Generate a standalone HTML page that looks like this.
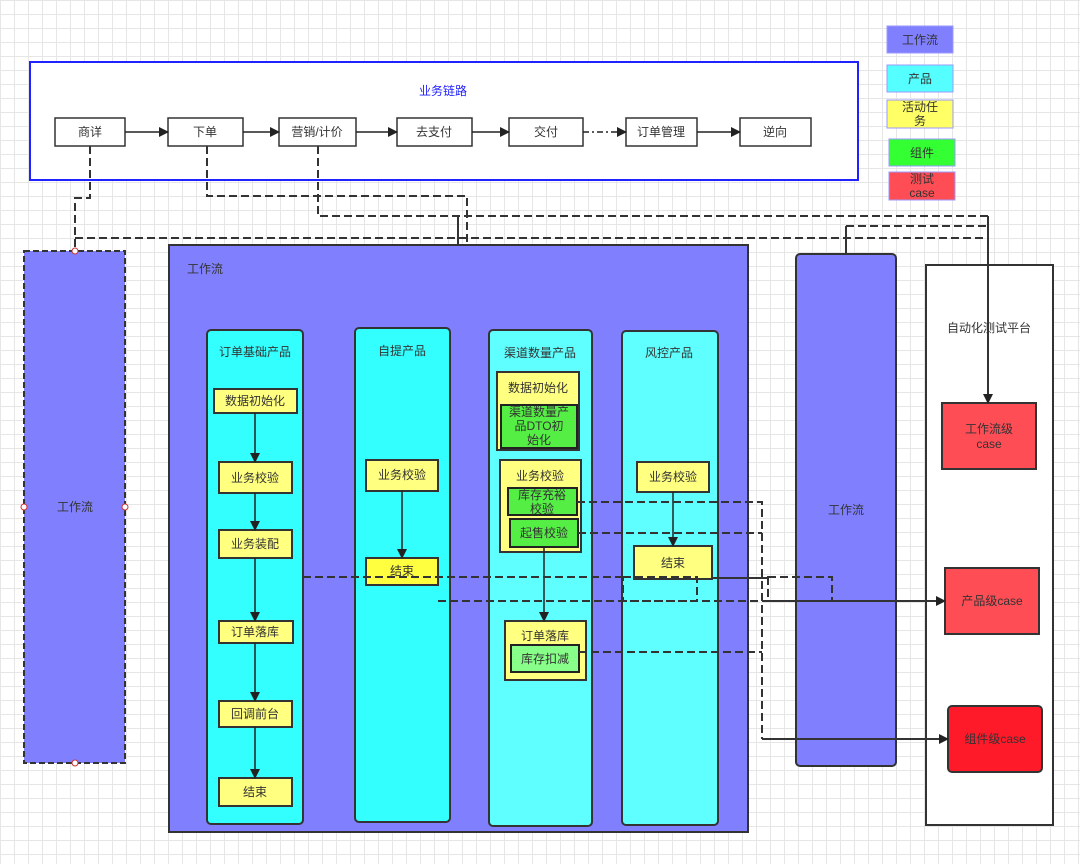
<!DOCTYPE html>
<html><head><meta charset="utf-8"><style>
html,body{margin:0;padding:0;}
body{width:1080px;height:864px;overflow:hidden;background:#fff;
background-image:linear-gradient(#e6e6e6 1px,transparent 1px),linear-gradient(90deg,#e6e6e6 1px,transparent 1px);background-size:14px 14px;}
svg{position:absolute;left:0;top:0;}
text{font-family:"Liberation Sans","Noto Sans CJK SC",sans-serif;font-size:12px;fill:#333;text-anchor:middle;dominant-baseline:central;}
</style></head><body>
<svg width="1080" height="864" viewBox="0 0 1080 864">
<defs><marker id="a" markerWidth="10" markerHeight="10" refX="9" refY="5" orient="auto" markerUnits="userSpaceOnUse"><path d="M0,0L10,5L0,10z" fill="#222"/></marker></defs>
<!-- top box -->
<rect x="30" y="62" width="828" height="118" fill="#fff" stroke="#2222ff" stroke-width="2"/>
<text x="443" y="91" style="fill:#2222ff">业务链路</text>
<g fill="#fff" stroke="#333" stroke-width="1.5">
<rect x="55" y="118" width="70" height="28"/><rect x="168" y="118" width="75" height="28"/><rect x="279" y="118" width="77" height="28"/><rect x="397" y="118" width="75" height="28"/><rect x="509" y="118" width="74" height="28"/><rect x="626" y="118" width="71" height="28"/><rect x="740" y="118" width="71" height="28"/>
</g>
<text x="90" y="132">商详</text><text x="205" y="132">下单</text><text x="317" y="132">营销/计价</text><text x="434" y="132">去支付</text><text x="546" y="132">交付</text><text x="661" y="132">订单管理</text><text x="775" y="132">逆向</text>
<g stroke="#222" stroke-width="1.5" marker-end="url(#a)">
<line x1="125" y1="132" x2="168" y2="132"/><line x1="243" y1="132" x2="279" y2="132"/><line x1="356" y1="132" x2="397" y2="132"/><line x1="472" y1="132" x2="509" y2="132"/><line x1="583" y1="132" x2="626" y2="132" stroke-dasharray="6,3,2,3"/><line x1="697" y1="132" x2="740" y2="132"/>
</g>
<!-- legend -->
<rect x="887" y="26" width="66" height="27" fill="#8080ff" stroke="#9a9aff"/><text x="920" y="40">工作流</text>
<rect x="887" y="65" width="66" height="27" fill="#55ffff" stroke="#9a9aff"/><text x="920" y="79">产品</text>
<rect x="887" y="100" width="66" height="28" fill="#ffff66" stroke="#9a9aff"/><text x="920" y="107">活动任</text><text x="920" y="121">务</text>
<rect x="889" y="139" width="66" height="27" fill="#33ff33" stroke="#9a9aff"/><text x="922" y="153">组件</text>
<rect x="889" y="172" width="66" height="28" fill="#ff4d55" stroke="#9a9aff"/><text x="922" y="179">测试</text><text x="922" y="193">case</text>
<!-- left dashed lane -->
<rect x="24" y="251" width="101" height="512" fill="#8080ff" stroke="#333" stroke-width="2" stroke-dasharray="6,3"/>
<text x="75" y="507">工作流</text>
<g fill="#fff" stroke="#c33"><circle cx="75" cy="251" r="3"/><circle cx="24" cy="507" r="3"/><circle cx="125" cy="507" r="3"/><circle cx="75" cy="763" r="3"/></g>
<!-- big purple -->
<rect x="169" y="245" width="579" height="587" fill="#8080ff" stroke="#333" stroke-width="2"/>
<text x="205" y="269">工作流</text>
<g stroke="#333" stroke-width="2">
<rect x="207" y="330" width="96" height="494" rx="4" fill="#33ffff"/>
<rect x="355" y="328" width="95" height="494" rx="4" fill="#33ffff"/>
<rect x="489" y="330" width="103" height="496" rx="4" fill="#5fffff"/>
<rect x="622" y="331" width="96" height="494" rx="4" fill="#5fffff"/>
</g>
<text x="255" y="352">订单基础产品</text><text x="402" y="351">自提产品</text><text x="540" y="353">渠道数量产品</text><text x="669" y="353">风控产品</text>
<g fill="#ffff80" stroke="#333" stroke-width="2">
<rect x="214" y="389" width="83" height="24"/><rect x="219" y="462" width="73" height="31"/><rect x="219" y="530" width="73" height="28"/><rect x="219" y="621" width="74" height="22"/><rect x="219" y="701" width="73" height="26"/><rect x="219" y="778" width="73" height="28"/>
<rect x="366" y="460" width="72" height="31"/><rect x="366" y="558" width="72" height="27" fill="#ffff40"/>
<rect x="497" y="372" width="82" height="78"/><rect x="500" y="460" width="81" height="92"/><rect x="505" y="621" width="81" height="59"/>
<rect x="637" y="462" width="72" height="30"/><rect x="634" y="546" width="78" height="33"/>
</g>
<g fill="#55ee44" stroke="#222" stroke-width="2">
<rect x="501" y="405" width="76" height="43"/><rect x="508" y="488" width="69" height="27"/><rect x="510" y="519" width="68" height="28"/><rect x="511" y="645" width="68" height="27" fill="#88ff88"/>
</g>
<text x="255" y="401">数据初始化</text><text x="255" y="478">业务校验</text><text x="255" y="544">业务装配</text><text x="255" y="632">订单落库</text><text x="255" y="714">回调前台</text><text x="255" y="792">结束</text>
<text x="402" y="475">业务校验</text><text x="402" y="571">结束</text>
<text x="538" y="388">数据初始化</text><text x="539" y="412">渠道数量产</text><text x="539" y="426">品DTO初</text><text x="539" y="440">始化</text>
<text x="540" y="476">业务校验</text><text x="542" y="495">库存充裕</text><text x="542" y="509">校验</text><text x="544" y="533">起售校验</text>
<text x="545" y="636">订单落库</text><text x="545" y="659">库存扣减</text>
<text x="673" y="477">业务校验</text><text x="673" y="563">结束</text>
<g stroke="#222" stroke-width="1.5" marker-end="url(#a)">
<line x1="255" y1="413" x2="255" y2="462"/><line x1="255" y1="493" x2="255" y2="530"/><line x1="255" y1="558" x2="255" y2="621"/><line x1="255" y1="643" x2="255" y2="701"/><line x1="255" y1="727" x2="255" y2="778"/>
<line x1="402" y1="491" x2="402" y2="558"/><line x1="673" y1="492" x2="673" y2="546"/><line x1="544" y1="547" x2="544" y2="621"/>
</g>
<!-- right purple -->
<rect x="796" y="254" width="100" height="512" rx="4" fill="#8080ff" stroke="#333" stroke-width="2"/>
<text x="846" y="510">工作流</text>
<!-- platform -->
<rect x="926" y="265" width="127" height="560" fill="#fff" stroke="#333" stroke-width="2"/>
<text x="989" y="328">自动化测试平台</text>
<rect x="942" y="403" width="94" height="66" fill="#ff4d55" stroke="#333" stroke-width="2"/><text x="989" y="429">工作流级</text><text x="989" y="444">case</text>
<rect x="945" y="568" width="94" height="66" fill="#ff4d55" stroke="#333" stroke-width="2"/><text x="992" y="601">产品级case</text>
<rect x="948" y="706" width="94" height="66" rx="4" fill="#ff1a2a" stroke="#333" stroke-width="2"/><text x="995" y="739">组件级case</text>
<!-- connectors -->
<g fill="none" stroke="#333" stroke-width="2" stroke-dasharray="8,4">
<polyline points="90,146 90,198 75,198 75,251"/>
<polyline points="75,238 988,238"/>
<polyline points="207,146 207,196 467,196 467,245"/>
<polyline points="318,146 318,216 988,216"/>
<polyline points="846,226 988,226"/>
<polyline points="303,577 625,577"/>
<rect x="623" y="577" width="74" height="24"/>
<rect x="768" y="577" width="64" height="24"/>
<polyline points="438,601 830,601"/>
<polyline points="577,502 762,502 762,739"/>
<polyline points="578,533 762,533"/>
<polyline points="579,652 762,652"/>
</g>
<g fill="none" stroke="#333" stroke-width="2">
<line x1="458" y1="216" x2="458" y2="245"/>
<line x1="846" y1="226" x2="846" y2="254"/>
<line x1="712" y1="578" x2="768" y2="578"/>
<line x1="988" y1="216" x2="988" y2="403" marker-end="url(#a)"/>
<line x1="830" y1="601" x2="945" y2="601" marker-end="url(#a)"/>
<line x1="762" y1="739" x2="948" y2="739" marker-end="url(#a)"/>
</g>
</svg>
</body></html>
